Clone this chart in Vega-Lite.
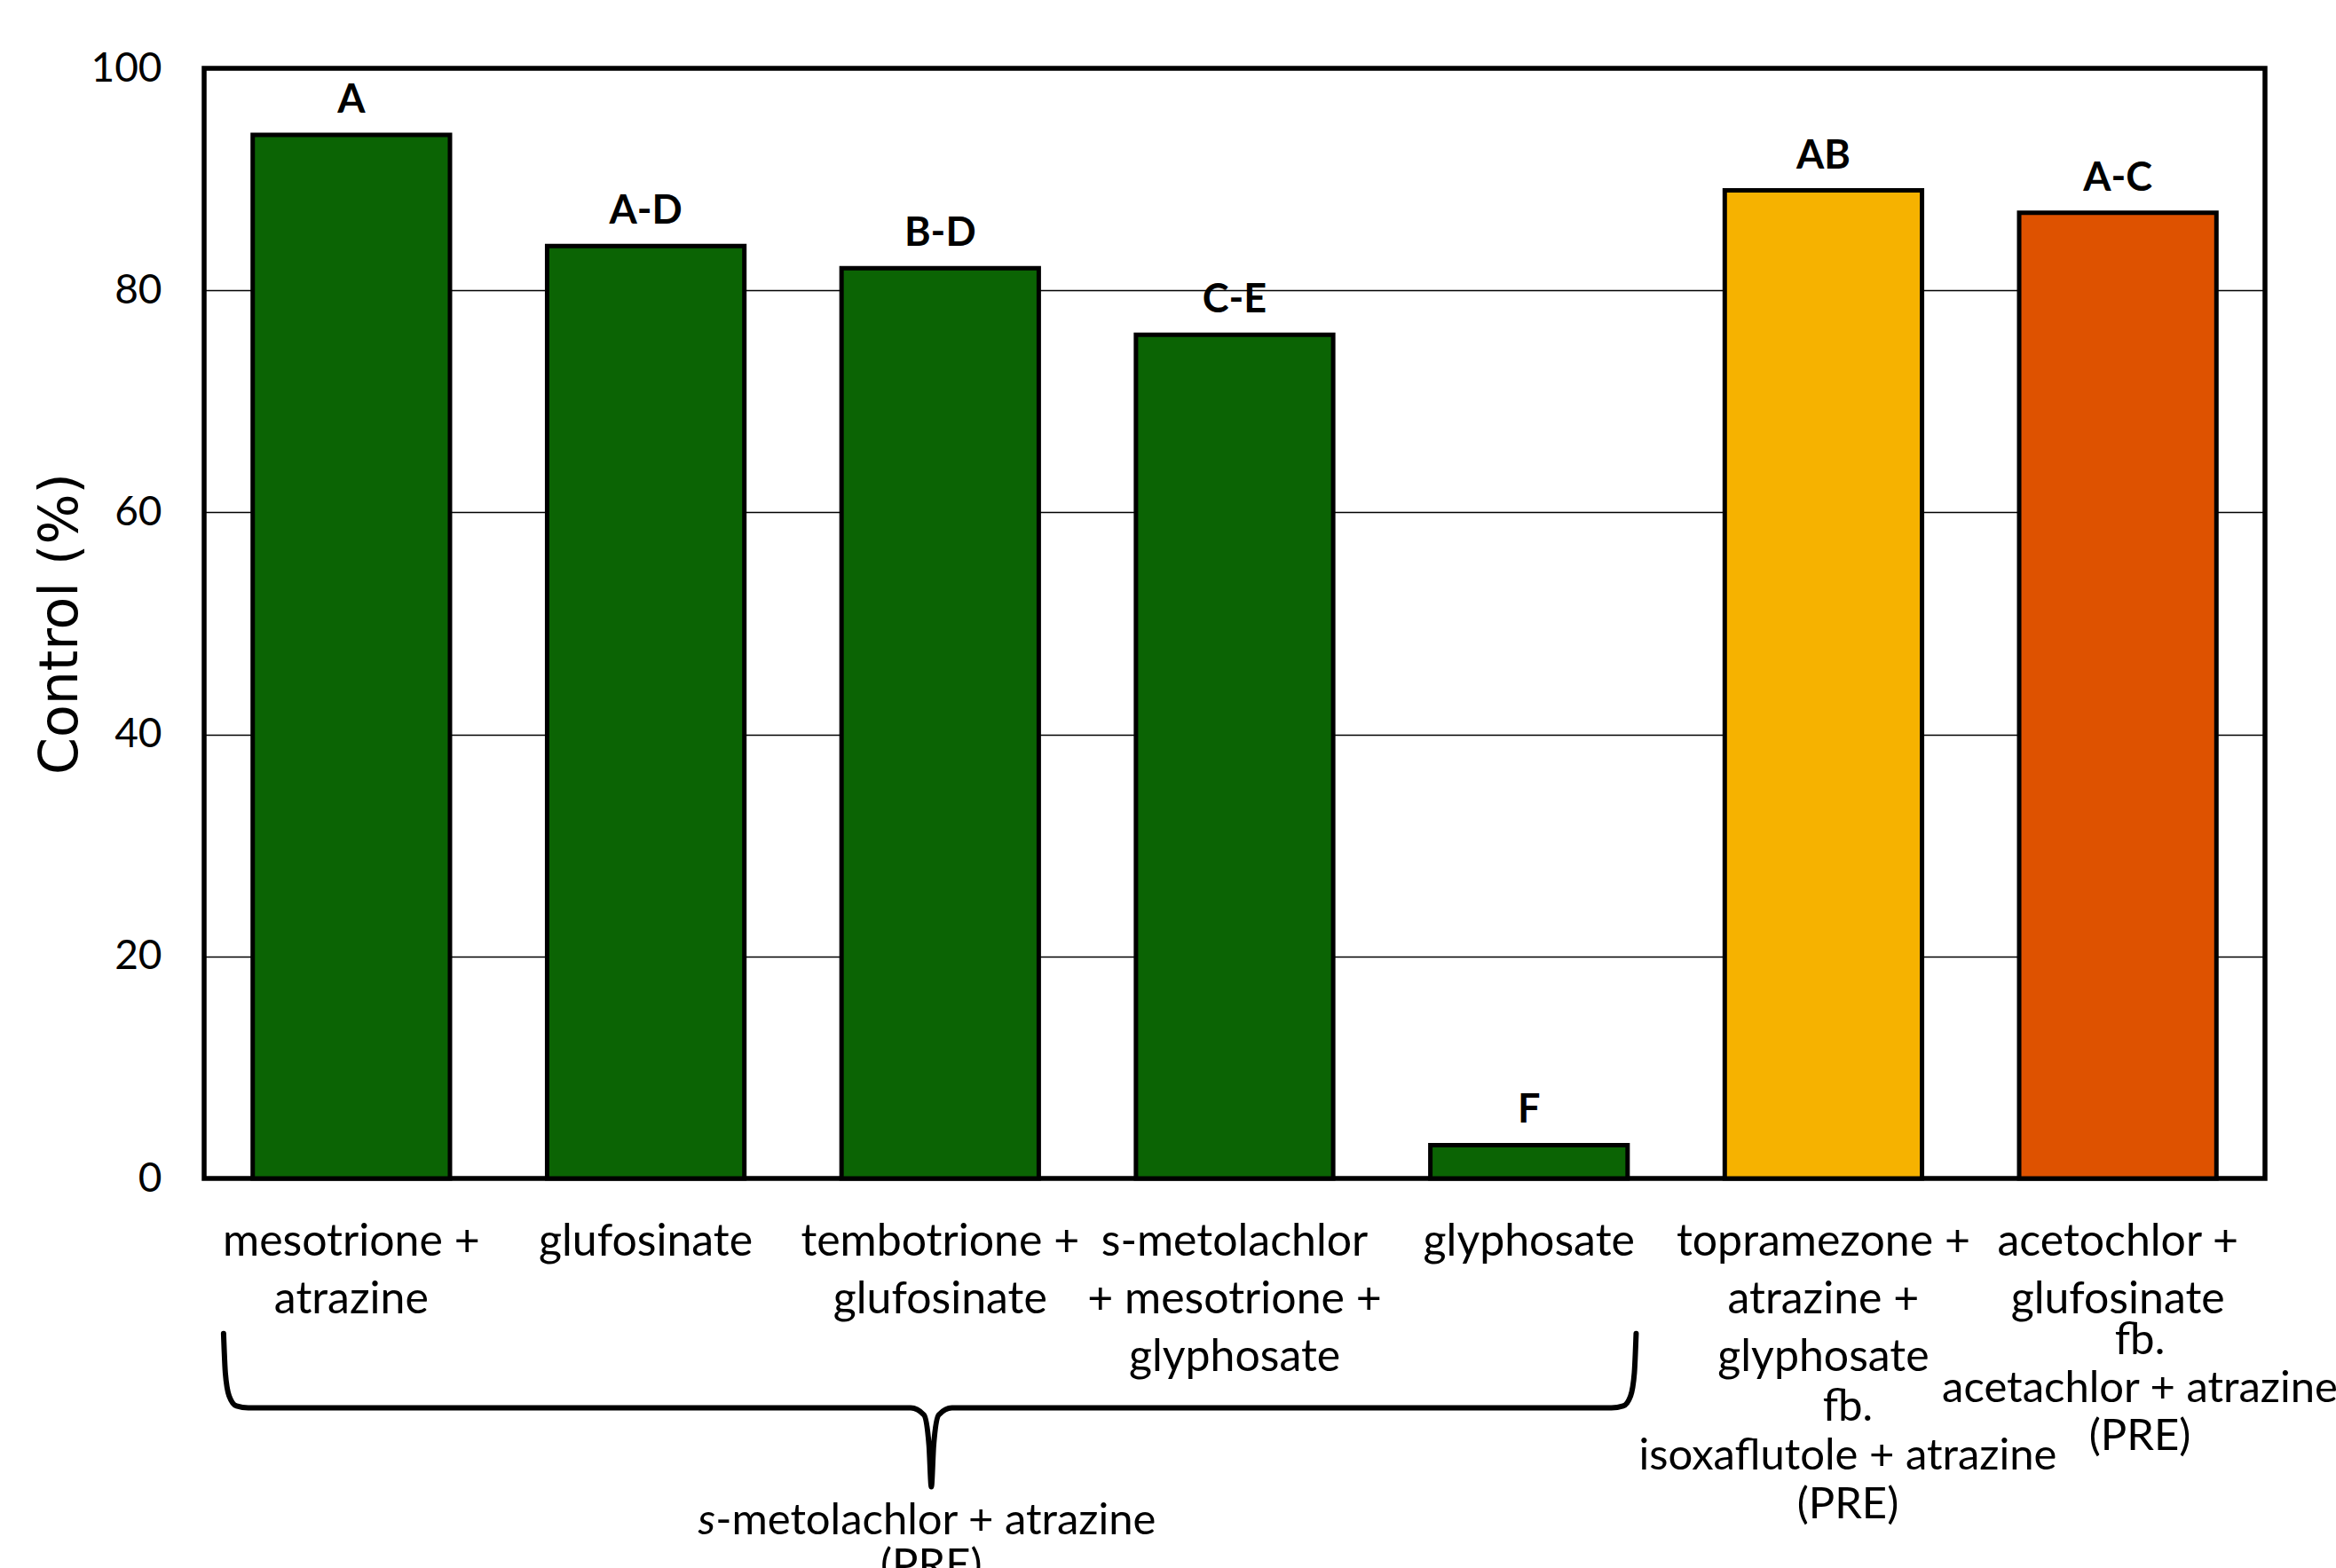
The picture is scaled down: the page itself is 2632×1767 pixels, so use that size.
{
  "$schema": "https://vega.github.io/schema/vega-lite/v6.json",
  "width": 2322,
  "height": 1251,
  "autosize": {"type": "none"},
  "padding": {"left": 230, "top": 77, "right": 80, "bottom": 439},
  "background": "white",
  "config": {
    "view": {"stroke": "black", "strokeWidth": 5.5},
    "text": {"color": "black"}
  },
  "datasets": {
    "bars": [
      {"trt": "mesotrione +|atrazine", "control": 94, "letter": "A", "program": "s-metolachlor + atrazine (PRE)"},
      {"trt": "glufosinate", "control": 84, "letter": "A-D", "program": "s-metolachlor + atrazine (PRE)"},
      {"trt": "tembotrione +|glufosinate", "control": 82, "letter": "B-D", "program": "s-metolachlor + atrazine (PRE)"},
      {"trt": "s-metolachlor|+ mesotrione +|glyphosate", "control": 76, "letter": "C-E", "program": "s-metolachlor + atrazine (PRE)"},
      {"trt": "glyphosate", "control": 3, "letter": "F", "program": "s-metolachlor + atrazine (PRE)"},
      {"trt": "topramezone +|atrazine +|glyphosate", "control": 89, "letter": "AB", "program": "isoxaflutole + atrazine (PRE)"},
      {"trt": "acetochlor +|glufosinate", "control": 87, "letter": "A-C", "program": "acetachlor + atrazine (PRE)"}
    ],
    "brace": [
      {"i": 1, "bx": 0.066, "by": -13.96},
      {"i": 2, "bx": 0.072, "by": -17.5},
      {"i": 3, "bx": 0.085, "by": -19.6},
      {"i": 4, "bx": 0.11, "by": -20.5},
      {"i": 5, "bx": 0.15, "by": -20.67},
      {"i": 6, "bx": 2.40, "by": -20.67},
      {"i": 7, "bx": 2.445, "by": -21.3},
      {"i": 8, "bx": 2.462, "by": -24.0},
      {"i": 9, "bx": 2.47, "by": -27.78},
      {"i": 10, "bx": 2.478, "by": -24.0},
      {"i": 11, "bx": 2.495, "by": -21.3},
      {"i": 12, "bx": 2.54, "by": -20.67},
      {"i": 13, "bx": 4.78, "by": -20.67},
      {"i": 14, "bx": 4.82, "by": -20.5},
      {"i": 15, "bx": 4.845, "by": -19.6},
      {"i": 16, "bx": 4.858, "by": -17.5},
      {"i": 17, "bx": 4.864, "by": -13.96}
    ]
  },
  "resolve": {"scale": {"x": "independent"}},
  "layer": [
    {
      "data": {"name": "bars"},
      "encoding": {
        "x": {
          "field": "trt", "type": "nominal", "sort": null,
          "scale": {"paddingInner": 0.33, "paddingOuter": 0.165},
          "axis": {
            "title": null,
            "labelExpr": "split(datum.label, '|')",
            "labelFont": "Lato", "labelFontSize": 50, "labelLineHeight": 65,
            "labelColor": "black", "labelPadding": 46, "labelAngle": 0,
            "labelLimit": 0, "labelOverlap": false,
            "ticks": false, "tickSize": 0, "domain": false, "grid": false
          }
        },
        "y": {
          "field": "control", "type": "quantitative",
          "scale": {"domain": [0, 100], "nice": false},
          "axis": {
            "title": "Control (%)",
            "values": [0, 20, 40, 60, 80, 100],
            "labelFont": "Lato", "labelFontSize": 46, "labelColor": "black",
            "labelPadding": 48, "ticks": false, "tickSize": 0, "domain": false,
            "grid": true, "gridColor": "black", "gridWidth": 1.5, "gridOpacity": 1,
            "titleFont": "DejaVu Sans", "titleFontSize": 60, "titleFontWeight": "normal",
            "titleColor": "black", "titlePadding": 2
          }
        }
      },
      "layer": [
        {
          "mark": {"type": "bar", "stroke": "black", "strokeWidth": 5},
          "encoding": {
            "color": {
              "field": "program", "type": "nominal",
              "scale": {
                "domain": ["s-metolachlor + atrazine (PRE)", "isoxaflutole + atrazine (PRE)", "acetachlor + atrazine (PRE)"],
                "range": ["#0b6404", "#f6b200", "#de5200"]
              },
              "legend": null
            }
          }
        },
        {
          "mark": {"type": "text", "font": "Lato", "fontWeight": "bold", "fontSize": 45, "dy": -25, "baseline": "alphabetic", "align": "center", "color": "black"},
          "encoding": {"text": {"field": "letter"}}
        }
      ]
    },
    {
      "data": {"name": "brace"},
      "mark": {"type": "line", "interpolate": "monotone", "stroke": "black", "strokeWidth": 6, "strokeCap": "round", "strokeJoin": "round"},
      "encoding": {
        "x": {"field": "bx", "type": "quantitative", "scale": {"domain": [0, 7], "nice": false, "zero": false}, "axis": null},
        "y": {"field": "by", "type": "quantitative", "scale": {"domain": [0, 100], "nice": false}},
        "order": {"field": "i"}
      }
    },
    {
      "data": {"values": [{}]},
      "mark": {"type": "text", "font": "Lato", "fontSize": 49, "lineHeight": 55, "align": "center", "baseline": "top", "color": "black",
        "text": ["fb.", "isoxaflutole + atrazine", "(PRE)"]},
      "encoding": {
        "x": {"datum": 5.583, "type": "quantitative", "scale": {"domain": [0, 7], "nice": false, "zero": false}, "axis": null},
        "y": {"datum": -18.7, "type": "quantitative", "scale": {"domain": [0, 100], "nice": false}}
      }
    },
    {
      "data": {"values": [{}]},
      "mark": {"type": "text", "font": "Lato", "fontSize": 49, "lineHeight": 54, "align": "center", "baseline": "top", "color": "black",
        "text": ["fb.", "acetachlor + atrazine", "(PRE)"]},
      "encoding": {
        "x": {"datum": 6.575, "type": "quantitative", "scale": {"domain": [0, 7], "nice": false, "zero": false}, "axis": null},
        "y": {"datum": -12.7, "type": "quantitative", "scale": {"domain": [0, 100], "nice": false}}
      }
    },
    {
      "data": {"values": [{}]},
      "mark": {"type": "text", "font": "Lato", "fontSize": 49, "fontStyle": "italic", "align": "right", "baseline": "top", "color": "black", "text": "s"},
      "encoding": {
        "x": {"datum": 1.737, "type": "quantitative", "scale": {"domain": [0, 7], "nice": false, "zero": false}, "axis": null},
        "y": {"datum": -28.9, "type": "quantitative", "scale": {"domain": [0, 100], "nice": false}}
      }
    },
    {
      "data": {"values": [{}]},
      "mark": {"type": "text", "font": "Lato", "fontSize": 49, "align": "left", "baseline": "top", "color": "black", "text": "-metolachlor + atrazine"},
      "encoding": {
        "x": {"datum": 1.737, "type": "quantitative", "scale": {"domain": [0, 7], "nice": false, "zero": false}, "axis": null},
        "y": {"datum": -28.9, "type": "quantitative", "scale": {"domain": [0, 100], "nice": false}}
      }
    },
    {
      "data": {"values": [{}]},
      "mark": {"type": "text", "font": "Lato", "fontSize": 49, "align": "center", "baseline": "top", "color": "black", "text": "(PRE)"},
      "encoding": {
        "x": {"datum": 2.47, "type": "quantitative", "scale": {"domain": [0, 7], "nice": false, "zero": false}, "axis": null},
        "y": {"datum": -33.0, "type": "quantitative", "scale": {"domain": [0, 100], "nice": false}}
      }
    }
  ]
}
